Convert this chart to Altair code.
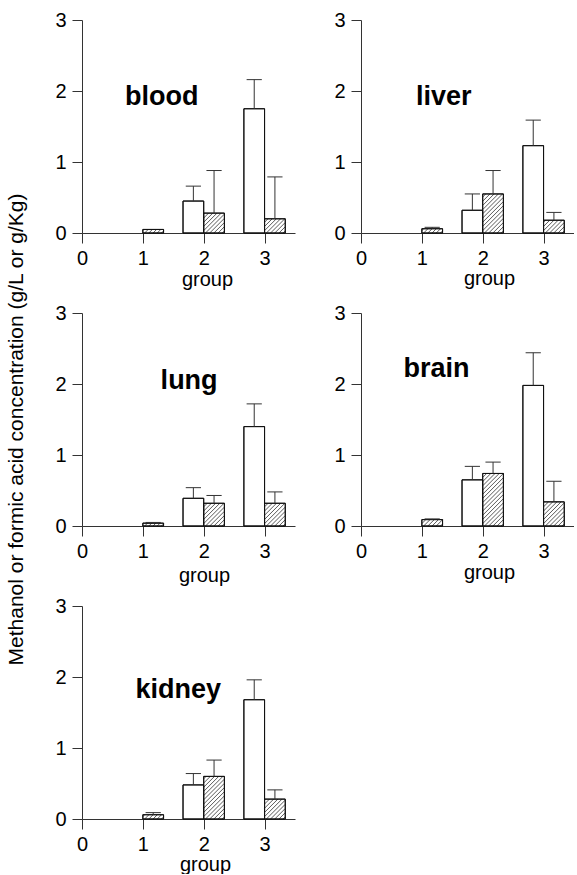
import altair as alt
import pandas as pd

# ---------------- data ----------------
groups = [0, 1, 2, 3]
organs = ["blood", "liver", "lung", "brain", "kidney"]

blood_methanol = [0, 0, 0.45, 1.75]
blood_methanol_sd = [0, 0, 0.21, 0.41]
blood_formic = [0, 0.05, 0.28, 0.20]
blood_formic_sd = [0, 0, 0.60, 0.59]

liver_methanol = [0, 0, 0.32, 1.23]
liver_methanol_sd = [0, 0, 0.23, 0.36]
liver_formic = [0, 0.06, 0.55, 0.18]
liver_formic_sd = [0, 0.02, 0.33, 0.11]

lung_methanol = [0, 0, 0.39, 1.40]
lung_methanol_sd = [0, 0, 0.15, 0.32]
lung_formic = [0, 0.04, 0.32, 0.32]
lung_formic_sd = [0, 0.01, 0.11, 0.16]

brain_methanol = [0, 0, 0.65, 1.98]
brain_methanol_sd = [0, 0, 0.19, 0.46]
brain_formic = [0, 0.09, 0.74, 0.34]
brain_formic_sd = [0, 0.01, 0.16, 0.29]

kidney_methanol = [0, 0, 0.48, 1.68]
kidney_methanol_sd = [0, 0, 0.16, 0.28]
kidney_formic = [0, 0.06, 0.60, 0.28]
kidney_formic_sd = [0, 0.03, 0.23, 0.13]

x_ticks = [0, 1, 2, 3]
y_ticks = [0, 1, 2, 3]
y_title = "Methanol or formic acid concentration (g/L or g/Kg)"
x_title = "group"

series_data = {
    "blood": (blood_methanol, blood_methanol_sd, blood_formic, blood_formic_sd),
    "liver": (liver_methanol, liver_methanol_sd, liver_formic, liver_formic_sd),
    "lung": (lung_methanol, lung_methanol_sd, lung_formic, lung_formic_sd),
    "brain": (brain_methanol, brain_methanol_sd, brain_formic, brain_formic_sd),
    "kidney": (kidney_methanol, kidney_methanol_sd, kidney_formic, kidney_formic_sd),
}

# ---------------- layout / style ----------------
W, H = 213, 213
XMAX, YMAX = 3.5, 3
SX, SY = W / XMAX, H / YMAX
BW = 0.34          # bar width (data units)
CAP = 0.25         # error cap width (data units)
D = 4.2            # hatch spacing (px)
FONT = "Liberation Sans"
INK = "#111111"

# per-panel label position (data units) and x-title offsets (px)
label_pos = {"blood": (1.31, 1.80), "liver": (1.36, 1.80), "lung": (1.76, 1.93),
             "brain": (1.24, 2.10), "kidney": (1.58, 1.70)}
xtitle_off = {"blood": (125, 52), "liver": (128, 51), "lung": (122, 55),
              "brain": (128, 52), "kidney": (123, 51)}

xscale = alt.Scale(domain=[0, XMAX], nice=False, zero=False)
yscale = alt.Scale(domain=[0, YMAX], nice=False)


def panel(name):
    m, msd, f, fsd = series_data[name]
    rows = []
    for g, v, s in zip(groups, m, msd):
        rows.append({"group": g, "series": "methanol", "value": v, "sd": s})
    for g, v, s in zip(groups, f, fsd):
        rows.append({"group": g, "series": "formic", "value": v, "sd": s})
    df = pd.DataFrame(rows)

    base = alt.Chart(df).transform_calculate(
        x0=f"datum.group + (datum.series == 'formic' ? 0 : -{BW})"
    ).transform_calculate(
        x1=f"datum.x0 + {BW}"
    ).transform_calculate(
        xc=f"datum.x0 + {BW / 2}"
    ).transform_calculate(
        top="datum.value + datum.sd"
    )

    tx, ty = xtitle_off[name]
    xaxis = alt.Axis(values=x_ticks, title=x_title, tickSize=10, labelPadding=5,
                     labelFontSize=20, titleFontSize=20, titleFontWeight="normal",
                     titleX=tx, titleY=ty, titleAlign="center",
                     titleBaseline="alphabetic", labelFlush=False,
                     labelOverlap=False, grid=False)
    if name == "lung":
        yaxis = alt.Axis(values=y_ticks, title=y_title, tickSize=10, labelPadding=6,
                         labelFontSize=20, titleFontSize=21, titleFontWeight="normal",
                         titleX=-66, titleY=116, titleAlign="center",
                         titleBaseline="middle", titleAngle=270,
                         labelFlush=False, grid=False)
    else:
        yaxis = alt.Axis(values=y_ticks, title=None, tickSize=10, labelPadding=6,
                         labelFontSize=20, labelFlush=False, grid=False)

    def X(field):
        return alt.X(field, scale=xscale, axis=xaxis)

    def Y(field):
        return alt.Y(field, scale=yscale, axis=yaxis)

    bars = base.transform_filter("datum.value > 0").mark_rect(
        fill="white", stroke=INK, strokeWidth=1
    ).encode(
        x=X("x0:Q"), x2="x1:Q", y=Y("value:Q"), y2=alt.datum(0),
    )

    hatch = base.transform_filter(
        "datum.series == 'formic' && datum.value > 0"
    ).transform_calculate(
        k="sequence(0, 60)"
    ).transform_flatten(["k"]).transform_calculate(
        w=f"{BW * SX}"
    ).transform_calculate(
        h=f"datum.value * {SY}"
    ).transform_calculate(
        c=f"-datum.w + (datum.k + 0.5) * {D}"
    ).transform_filter("datum.c < datum.h").transform_calculate(
        hx0=f"datum.x0 + max(0, -datum.c) / {SX}",
        hy0=f"max(0, datum.c) / {SY}",
        hx1=f"datum.x0 + min(datum.w, datum.h - datum.c) / {SX}",
        hy1=f"min(datum.h, datum.c + datum.w) / {SY}",
    ).mark_rule(color=INK, strokeWidth=0.7).encode(
        x=X("hx0:Q"), y=Y("hy0:Q"), x2="hx1:Q", y2="hy1:Q",
    )

    outline = base.transform_filter("datum.value > 0").mark_rect(
        fillOpacity=0, stroke=INK, strokeWidth=1
    ).encode(
        x=X("x0:Q"), x2="x1:Q", y=Y("value:Q"), y2=alt.datum(0),
    )

    err = base.transform_filter("datum.sd > 0")
    err_line = err.mark_rule(color="#333333", strokeWidth=1).encode(
        x=X("xc:Q"), y=Y("value:Q"), y2="top:Q",
    )
    err_cap = err.transform_calculate(
        cx0=f"datum.xc - {CAP / 2}", cx1=f"datum.xc + {CAP / 2}"
    ).mark_rule(color="#333333", strokeWidth=1).encode(
        x=X("cx0:Q"), x2="cx1:Q", y=Y("top:Q"),
    )

    lx, ly = label_pos[name]
    label = alt.Chart(pd.DataFrame({"name": [name], "lx": [lx], "ly": [ly]})).mark_text(
        fontSize=27, fontWeight="bold", font=FONT, color="black",
        align="center", baseline="alphabetic"
    ).encode(
        x=X("lx:Q"), y=Y("ly:Q"), text="name:N",
    )

    return alt.layer(bars, hatch, outline, err_line, err_cap, label).properties(
        width=W, height=H
    )


chart = alt.concat(
    *[panel(n) for n in organs], columns=2, spacing={"row": 80, "column": 66},
    bounds="flush"
).properties(
    padding={"left": 4, "top": 10, "right": 0, "bottom": 0}
).configure(
    font=FONT
).configure_view(
    stroke=None
).configure_axis(
    domainColor="#333333", tickColor="#333333", labelColor="black",
    titleColor="black", domainWidth=1, tickWidth=1, labelFont=FONT, titleFont=FONT
)

chart.save("out.html", embed_options={"renderer": "svg", "actions": False})
